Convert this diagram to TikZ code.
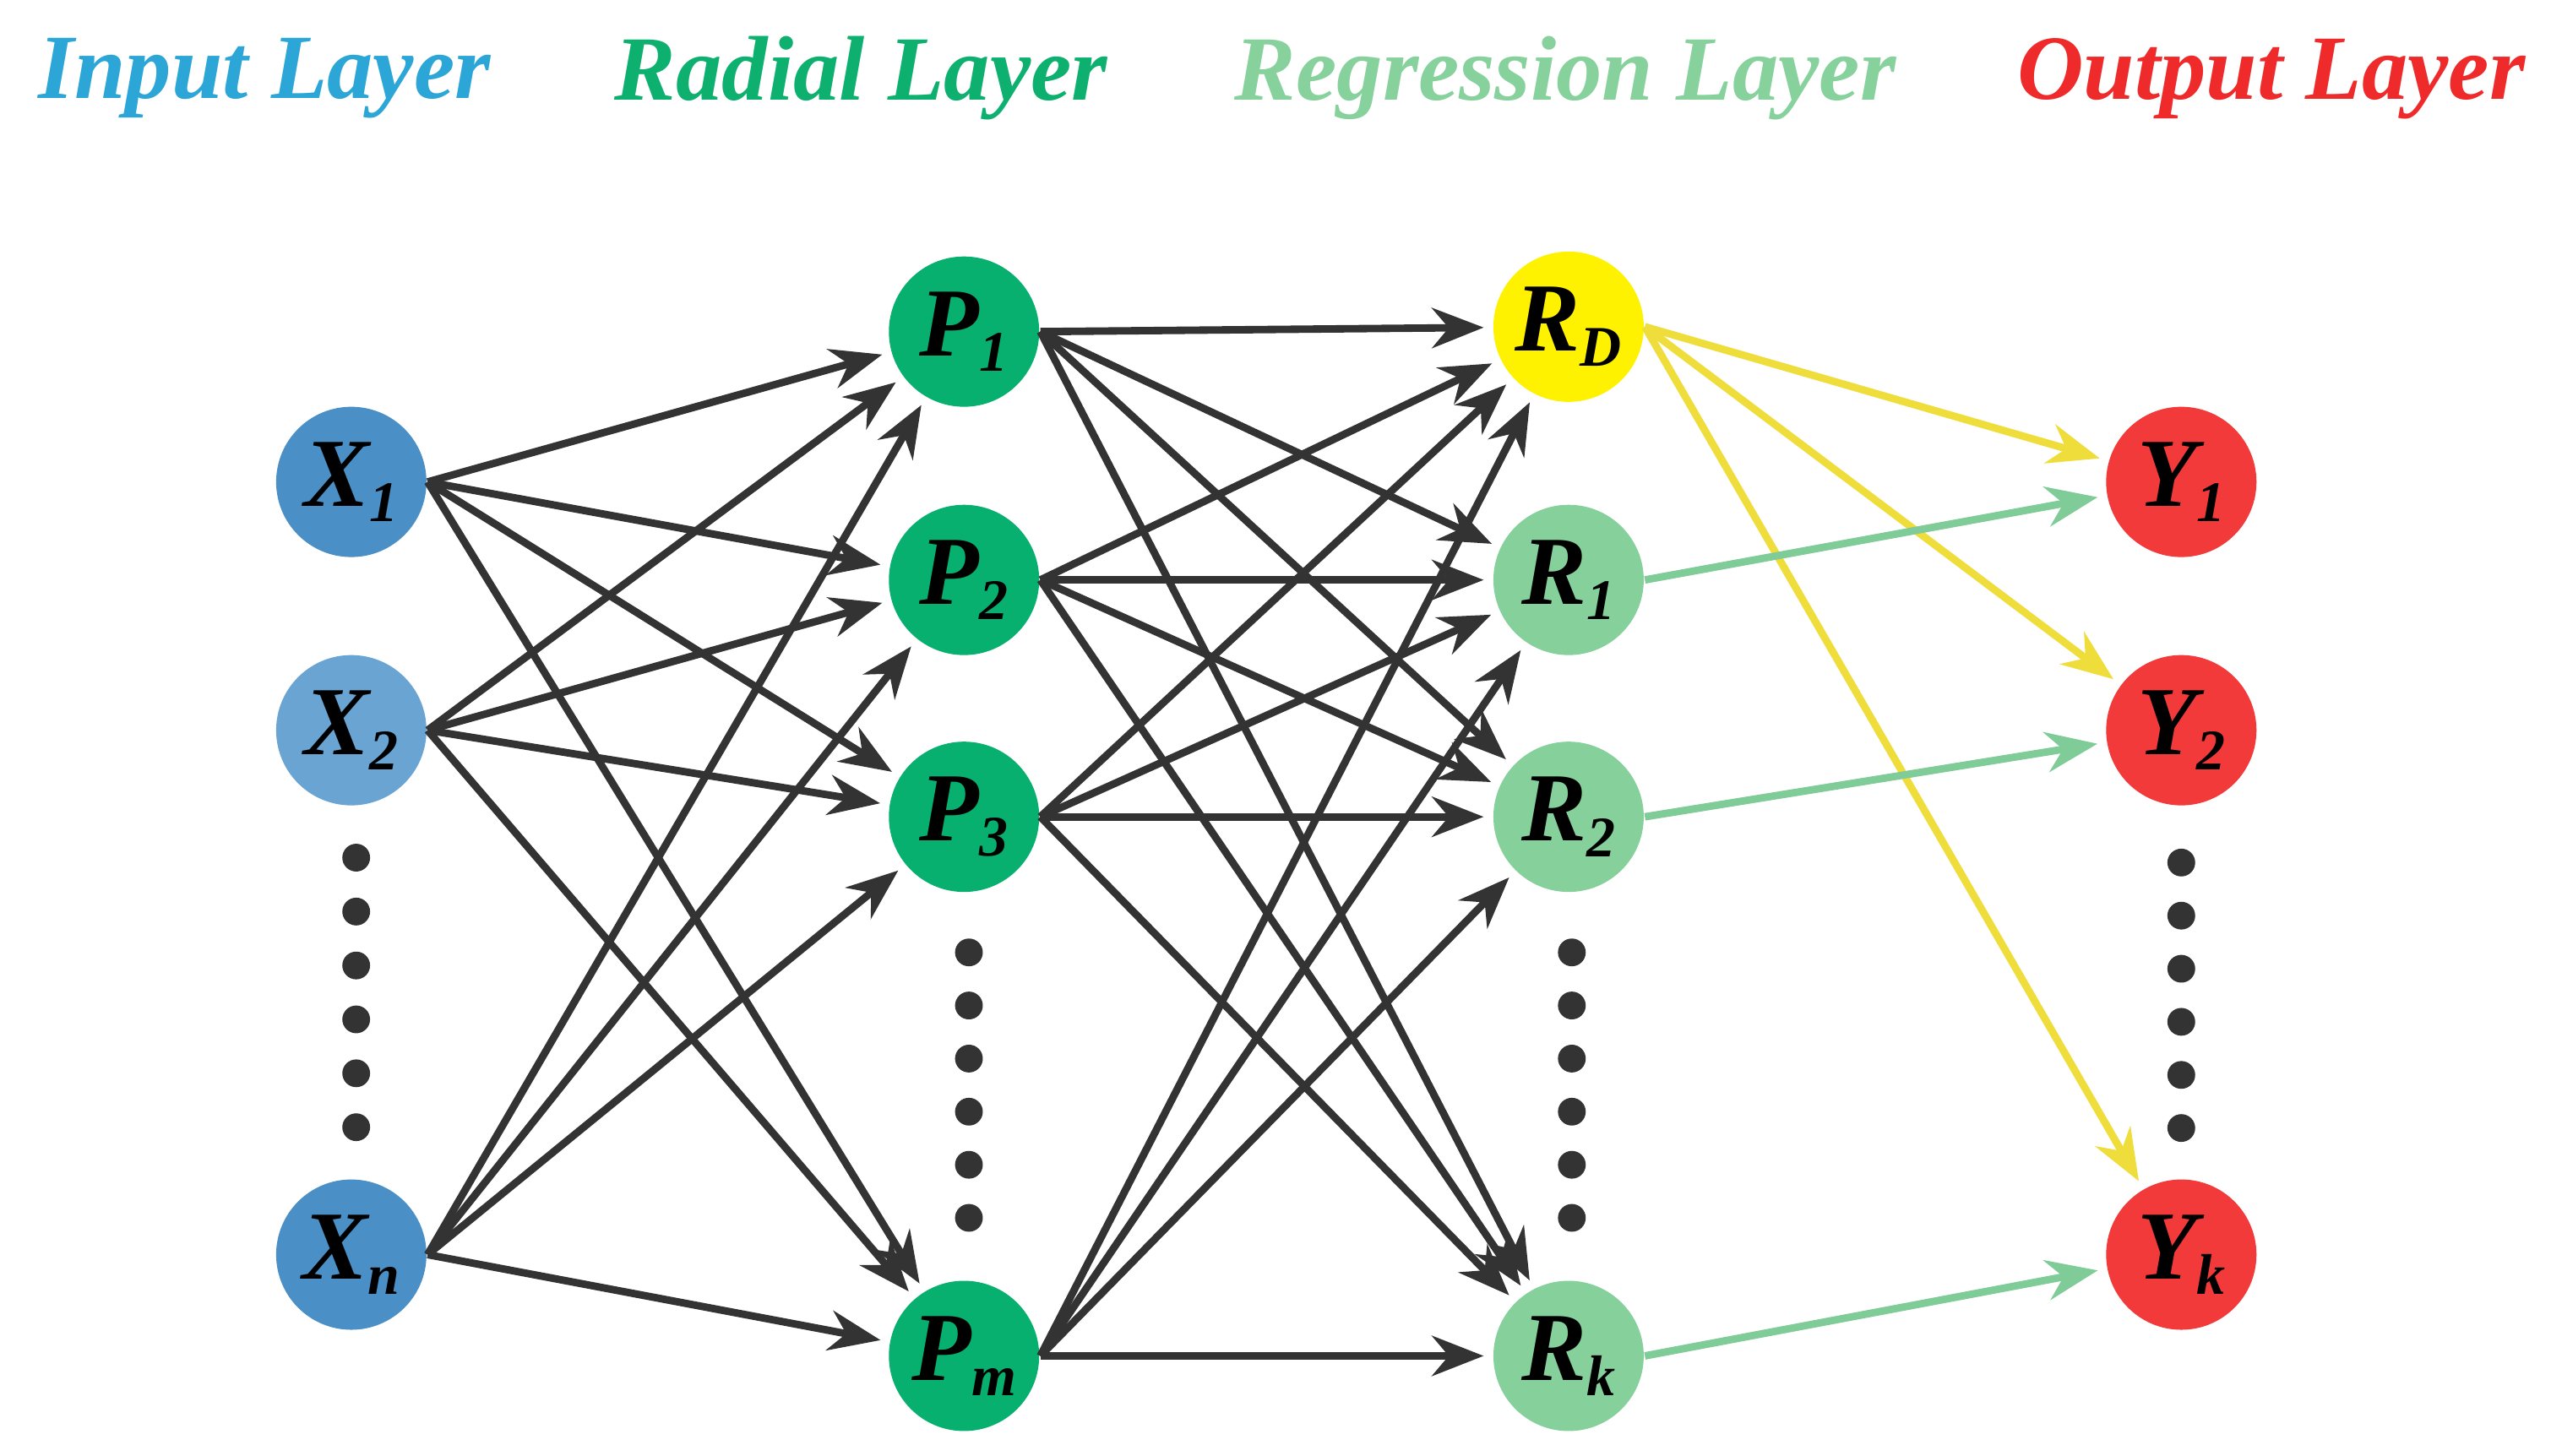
\documentclass[tikz,border=0pt]{standalone}
\usepackage{fontspec}
\setmainfont{Liberation Serif}
\usetikzlibrary{arrows.meta}
\definecolor{cin}{HTML}{2BA6D6}
\definecolor{crad}{HTML}{0DB06E}
\definecolor{creg}{HTML}{86D19C}
\definecolor{cout}{HTML}{EE2A2A}
\definecolor{nx}{HTML}{4A8FC6}
\definecolor{nx2}{HTML}{6AA4D2}
\definecolor{np}{HTML}{08B070}
\definecolor{nr}{HTML}{86D09C}
\definecolor{ny}{HTML}{F23A3A}
\definecolor{nd}{HTML}{FFF200}
\definecolor{yl}{HTML}{EEDD3A}
\definecolor{gl}{HTML}{80CC98}
\definecolor{dk}{HTML}{333333}
\newcommand{\sbx}[1]{\raisebox{-0.35ex}{\fontsize{10}{10}\selectfont #1}}
\begin{document}
\begin{tikzpicture}[x=0.1mm,y=-0.1mm,
 nd/.style={circle,minimum size=9.2mm,inner sep=0pt,font=\fontsize{17}{17}\selectfont\bfseries\itshape},
 ttl/.style={font=\fontsize{16}{16}\selectfont\bfseries\itshape},
 ar/.style={-{Stealth[length=9pt,width=7pt]},line width=1.3pt,shorten >=1.5pt},
 dot/.style={circle,fill=dk,inner sep=0pt,minimum size=1.7mm}]
\useasboundingbox (0,0) rectangle (1568,891);
\node[ttl,text=cin] (t1) at (162,48) {Input Layer};
\node[ttl,text=crad] (t2) at (527,48) {Radial Layer};
\node[ttl,text=creg] (t3) at (958,48) {Regression Layer};
\node[ttl,text=cout] (t4) at (1390,48) {Output Layer};
\node[nd,fill=nx] (x1) at (215,295) {X\sbx{1}};
\node[nd,fill=nx2] (x2) at (215,447) {X\sbx{2}};
\node[nd,fill=nx] (xn) at (215,768) {X\sbx{n}};
\node[nd,fill=np] (p1) at (590,203) {P\sbx{1}};
\node[nd,fill=np] (p2) at (590,355) {P\sbx{2}};
\node[nd,fill=np] (p3) at (590,500) {P\sbx{3}};
\node[nd,fill=np] (pm) at (590,830) {P\sbx{m}};
\node[nd,fill=nd] (rd) at (960,200) {R\sbx{D}};
\node[nd,fill=nr] (r1) at (960,355) {R\sbx{1}};
\node[nd,fill=nr] (r2) at (960,500) {R\sbx{2}};
\node[nd,fill=nr] (rk) at (960,830) {R\sbx{k}};
\node[nd,fill=ny] (y1) at (1335,295) {Y\sbx{1}};
\node[nd,fill=ny] (y2) at (1335,447) {Y\sbx{2}};
\node[nd,fill=ny] (yk) at (1335,768) {Y\sbx{k}};
\foreach \i in {0,...,5}{
 \node[dot] (da\i) at (218,525+33*\i) {};
 \node[dot] (db\i) at (593,583+32.5*\i) {};
 \node[dot] (dc\i) at (962,583+32.5*\i) {};
 \node[dot] (dd\i) at (1335,528+32.5*\i) {};}
\foreach \a in {x1,x2,xn}\foreach \b in {p1,p2,p3,pm}\draw[ar,dk] (\a.east) -- (\b);
\foreach \a in {p1,p2,p3,pm}\foreach \b in {rd,r1,r2,rk}\draw[ar,dk] (\a.east) -- (\b);
\foreach \b in {y1,y2,yk}\draw[ar,yl] (rd.east) -- (\b);
\draw[ar,gl] (r1.east) -- (y1);
\draw[ar,gl] (r2.east) -- (y2);
\draw[ar,gl] (rk.east) -- (yk);
\end{tikzpicture}
\end{document}
